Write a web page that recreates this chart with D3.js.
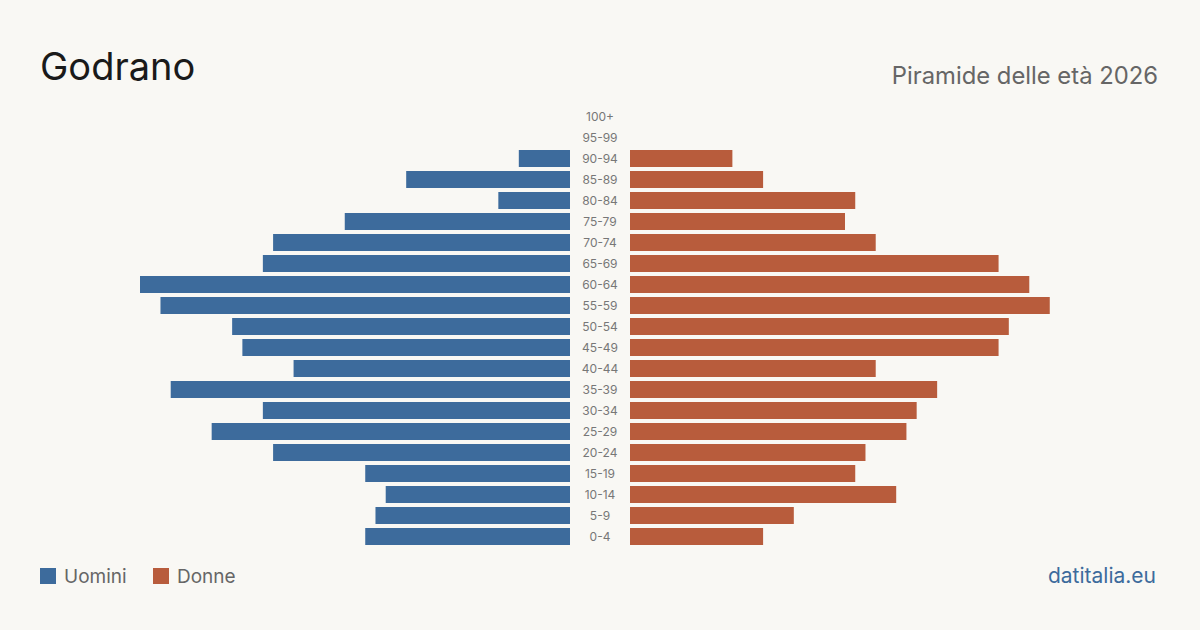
<!DOCTYPE html>
<html>
<head>
<meta charset="utf-8">
<script src="https://cdn.jsdelivr.net/npm/d3@7"></script>
<style>
html,body{margin:0;padding:0;background:#f9f8f4;}
svg{display:block;font-family:Inter,"Noto Sans",sans-serif;}
</style>
</head>
<body>
<svg id="chart" width="1200" height="630"></svg>
<script>
const ageGroups = ["100+","95-99","90-94","85-89","80-84","75-79","70-74","65-69","60-64","55-59","50-54","45-49","40-44","35-39","30-34","25-29","20-24","15-19","10-14","5-9","0-4"];
const males   = [0,0,5,16,7,22,29,30,42,40,33,32,27,39,30,35,29,20,18,19,20];
const females = [0,0,10,13,22,21,24,36,39,41,37,36,24,30,28,27,23,22,26,16,13];
const legendLabels = ["Uomini","Donne"];
const colors = {m:"#3d6b9c", f:"#b85c3c"};

const svg = d3.select("#chart");
svg.append("rect").attr("width",1200).attr("height",630).attr("fill","#f9f8f4");

const maxV = d3.max(males.concat(females));
const y = d3.scaleBand().domain(ageGroups).range([106,547]).paddingInner(4/21).paddingOuter(2/21);
const xm = d3.scaleLinear().domain([0,maxV]).range([570,140]);
const xf = d3.scaleLinear().domain([0,maxV]).range([630,1060]);

const bh = y.bandwidth();
const yTop = d => y(d);

svg.append("g").selectAll("rect").data(ageGroups).join("rect")
  .attr("x",(d,i)=>xm(males[i])).attr("y",d=>yTop(d))
  .attr("width",(d,i)=>xm(0)-xm(males[i])).attr("height",bh)
  .attr("fill",colors.m);

svg.append("g").selectAll("rect").data(ageGroups).join("rect")
  .attr("x",xf(0)).attr("y",d=>yTop(d))
  .attr("width",(d,i)=>xf(females[i])-xf(0)).attr("height",bh)
  .attr("fill",colors.f);

svg.append("g").selectAll("text").data(ageGroups).join("text")
  .attr("x",600).attr("y",d=>yTop(d)+bh/2).attr("dy","0.35em")
  .attr("text-anchor","middle").attr("font-size",12).attr("fill","#777")
  .text(d=>d);

svg.append("text").attr("x",40).attr("y",80).attr("font-size",38).attr("fill","#1a1a1a").text("Godrano");
svg.append("text").attr("x",1158).attr("y",84).attr("text-anchor","end").attr("font-size",23.8).attr("fill","#666").text("Piramide delle età 2026");

const lg = svg.append("g");
const lx = [40,153];
legendLabels.forEach((l,i)=>{
  lg.append("rect").attr("x",lx[i]).attr("y",568).attr("width",16).attr("height",16).attr("fill",i?colors.f:colors.m);
  lg.append("text").attr("x",lx[i]+24).attr("y",583).attr("font-size",19).attr("fill","#666").text(l);
});
svg.append("text").attr("x",1156).attr("y",583).attr("text-anchor","end").attr("font-size",21).attr("fill","#3d6b9c").text("datitalia.eu");
</script>
</body>
</html>
